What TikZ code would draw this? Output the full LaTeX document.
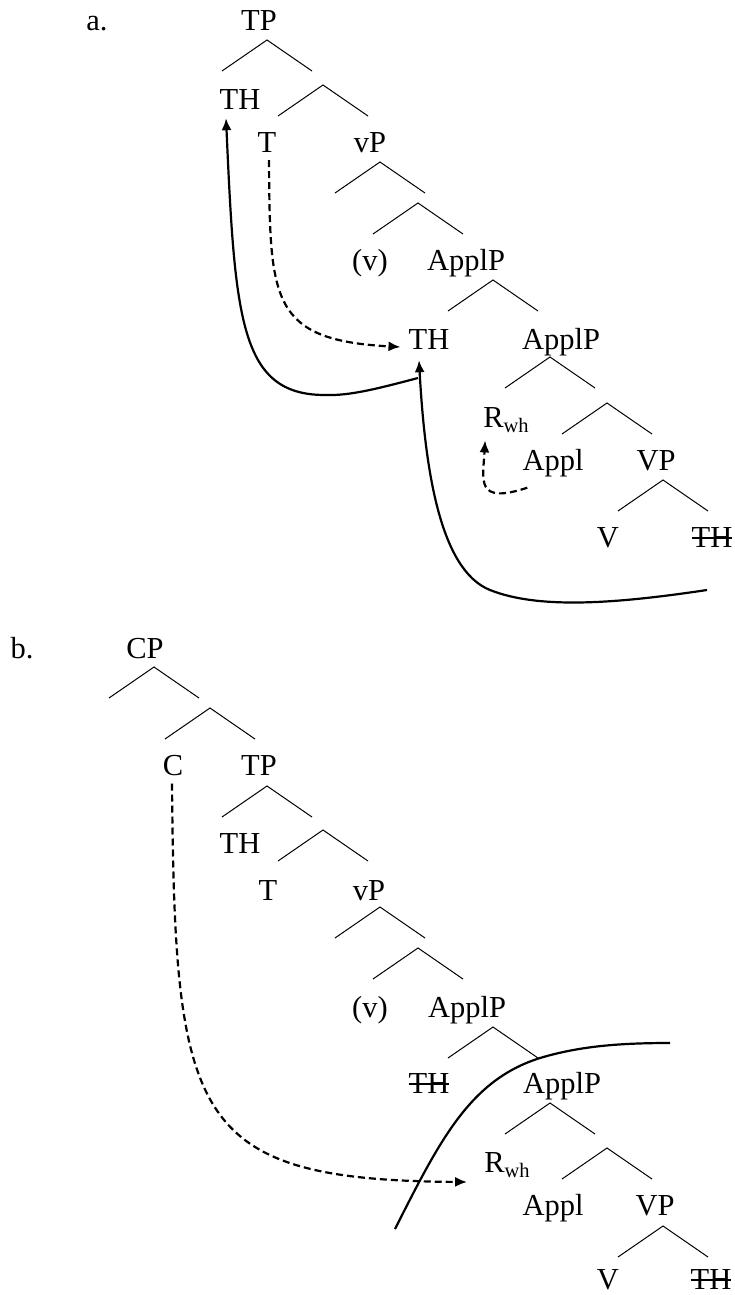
\documentclass[tikz,border=0pt]{standalone}
\usepackage{fontspec}
\setmainfont{Liberation Serif}
\usetikzlibrary{arrows.meta,calc}
\newsavebox\strkbox
\newcommand{\strk}[1]{\sbox\strkbox{#1}\rlap{\rule[0.26em]{\wd\strkbox}{0.055em}}\usebox\strkbox}
\newcommand{\Rwh}{R\raisebox{-5pt}{\fontsize{20.5}{24}\selectfont wh}}
\begin{document}
\begin{tikzpicture}[x=1pt,y=-1pt,
  lbl/.style={anchor=base,inner sep=0pt,font=\fontsize{30.5}{36}\selectfont},
  branch/.pic={\draw[line width=1pt] (-45,31) -- (0,0) -- (45,31);},
  mv/.style={line width=2.2pt,-{Latex[length=12pt,width=10pt]}},
  mvd/.style={mv,dash pattern=on 7pt off 4pt},
  plain/.style={line width=2.2pt}]
\useasboundingbox (0,0) rectangle (734,1295);
% ---------- a ----------
\node[lbl] (la) at (97,31) {a.};
\node[lbl] (aTP) at (259,31) {TP};
\node[lbl] (aTH) at (240,110) {TH};
\node[lbl] (aT) at (267,153) {T};
\node[lbl] (avP) at (370,153) {vP};
\node[lbl] (av) at (370,270) {(v)};
\node[lbl] (aApplP) at (466,270) {ApplP};
\node[lbl] (aTHm) at (429,349) {TH};
\node[lbl] (aApplPb) at (561,349) {ApplP};
\node[lbl] (aR) at (506,427) {\Rwh};
\node[lbl] (aAppl) at (553,470) {Appl};
\node[lbl] (aVP) at (656,470) {VP};
\node[lbl] (aV) at (608,547) {V};
\node[lbl] (aTHs) at (712,547) {\strk{TH}};
\foreach \p in {(267,40),(323,85),(380,162),(418,203),(493,280),(550,357),(607,403),(663,480)}
  \pic at \p {branch};
\draw[mvd] ($(aT.south)+(2,7)$) .. controls (270,300) and (270,340) .. ($(aTHm.base west)+(-8,-2)$);
\coordinate (aj) at (418,378);
\draw[mv] (aj) .. controls (380,388) and (350,396) .. (325,395)
  .. controls (240,395) and (235,320) .. ($(aTH.south)+(-14,8)$);
\coordinate (ae) at (707,590);
\draw[mv] (ae) .. controls (620,603) and (540,610) .. (490,590)
  .. controls (440,570) and (425,470) .. ($(aTHm.south)+(-10,11)$);
\draw[mvd] ($(aAppl.south west)+(5,11)$) .. controls (475,505) and (483,480) .. ($(aR.south west)+(2,8)$);
% ---------- b ----------
\node[lbl] (lb) at (22,658) {b.};
\node[lbl] (bCP) at (145,658) {CP};
\node[lbl] (bC) at (173,775) {C};
\node[lbl] (bTP) at (259,775) {TP};
\node[lbl] (bTH) at (240,853) {TH};
\node[lbl] (bT) at (268,900) {T};
\node[lbl] (bvP) at (369,900) {vP};
\node[lbl] (bv) at (370,1017) {(v)};
\node[lbl] (bApplP) at (467,1017) {ApplP};
\node[lbl] (bTHs) at (429,1093) {\strk{TH}};
\node[lbl] (bApplPb) at (562,1093) {ApplP};
\node[lbl] (bR) at (507,1172) {\Rwh};
\node[lbl] (bAppl) at (553,1215) {Appl};
\node[lbl] (bVP) at (655,1215) {VP};
\node[lbl] (bV) at (608,1289) {V};
\node[lbl] (bTHt) at (711,1289) {\strk{TH}};
\foreach \p in {(154,667),(210,708),(267,786),(323,830),(380,907),(418,948),(493,1027),(550,1103),(607,1148),(663,1226)}
  \pic at \p {branch};
\draw[mvd] ($(bC.south)+(-1,8)$) .. controls (175,1120) and (190,1180) .. ($(bR.base west)+(-17,10)$);
\coordinate (bs1) at (395,1229);
\coordinate (bs2) at (670,1043);
\draw[plain] (bs1) .. controls (440,1140) and (470,1080) .. (540,1058)
  .. controls (580,1046) and (620,1043) .. (bs2);
\end{tikzpicture}
\end{document}
